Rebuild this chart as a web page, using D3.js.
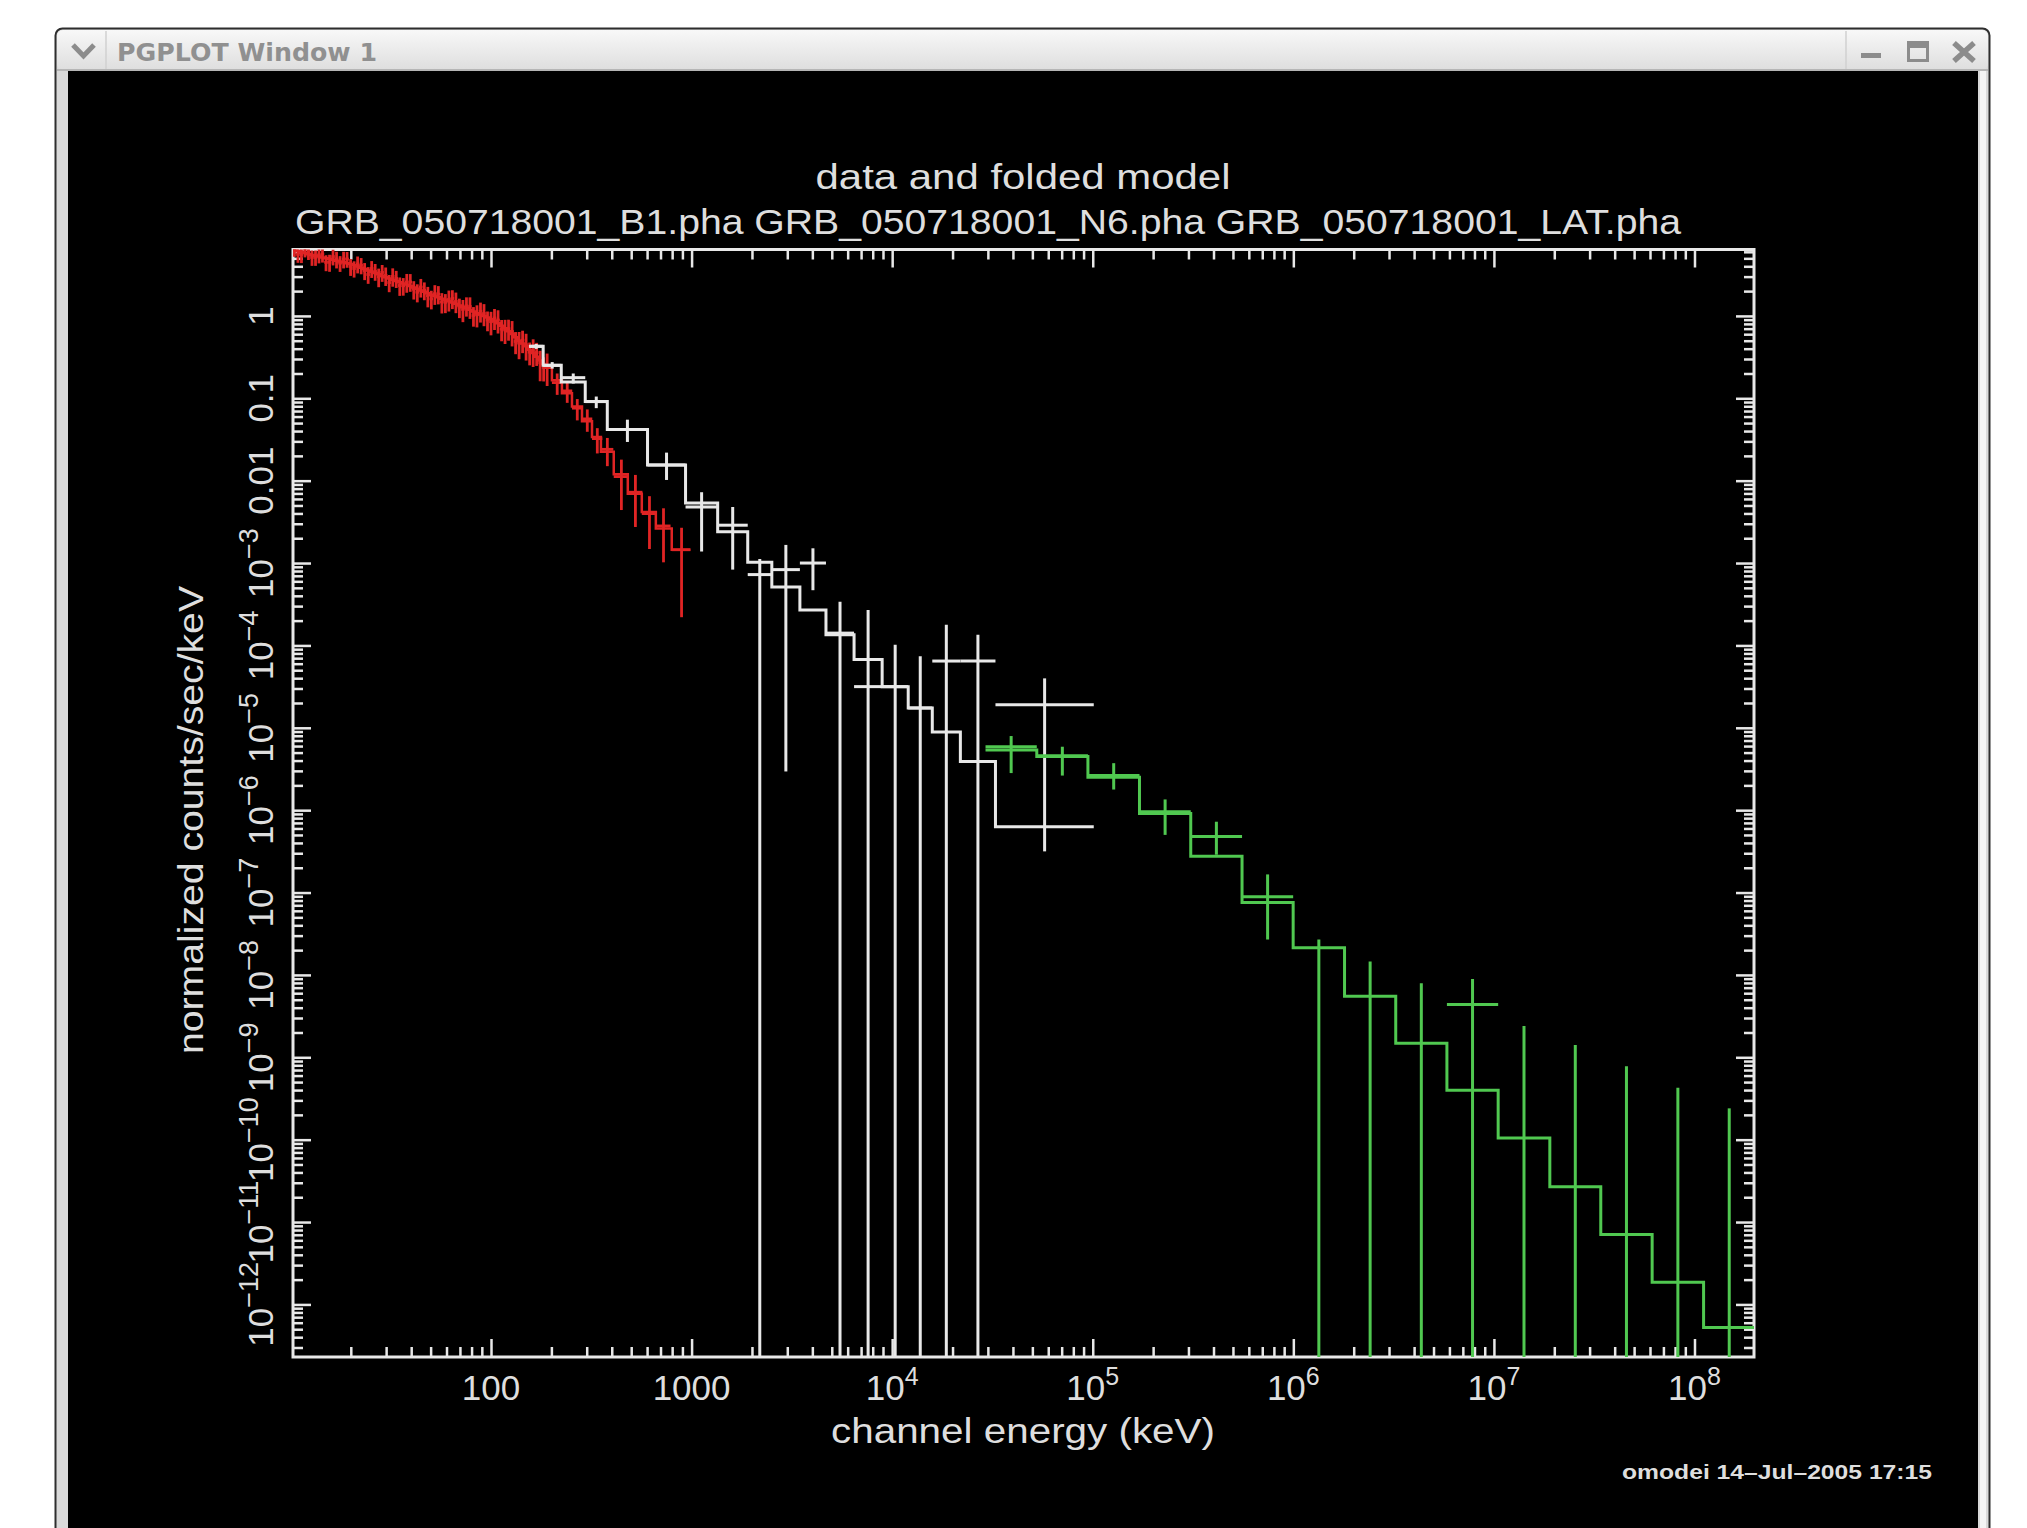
<!DOCTYPE html>
<html>
<head>
<meta charset="utf-8">
<script src="https://cdn.jsdelivr.net/npm/d3@7"></script>
<style>
html,body{margin:0;padding:0;background:#fff;}
svg{display:block;}
</style>
</head>
<body>
<svg id="chart" width="2027" height="1528"></svg>
<script>
// ---------------- DATA ----------------
// Red: GRB_050718001_N6.pha (energy centre keV, half width keV, counts/sec/keV, error, folded model)
const redEnergy = [10.47,10.90,11.35,11.82,12.30,12.81,13.34,13.88,14.45,15.05,
  15.67,16.31,16.98,17.68,18.41,19.16,19.95,20.77,21.63,22.52,
  23.44,24.41,25.41,26.45,27.54,28.67,29.85,31.08,32.36,33.69,
  35.08,36.52,38.02,39.58,41.21,42.90,44.67,46.51,48.42,50.41,
  52.48,54.64,56.89,59.23,61.66,64.20,66.83,69.59,72.44,75.44,
  78.52,81.77,85.11,88.63,92.26,96.07,100.0,104.1,108.4,112.9,
  117.5,122.3,127.4,132.6,138.0,143.7,149.6,155.8,162.2,168.9,
  175.8,183.0,190.5,213.8,239.9,269.2,302.0,338.8,380.2,446.7,
  524.8,616.6,724.4,891.3];
const redHalfWidth = [0.21,0.22,0.23,0.24,0.25,0.26,0.27,0.28,0.29,0.31,
  0.32,0.33,0.35,0.36,0.37,0.39,0.41,0.42,0.44,0.46,
  0.48,0.50,0.52,0.54,0.56,0.58,0.61,0.63,0.66,0.68,
  0.71,0.74,0.77,0.80,0.84,0.87,0.91,0.94,0.98,1.02,
  1.07,1.11,1.15,1.20,1.25,1.30,1.36,1.41,1.47,1.53,
  1.59,1.66,1.73,1.80,1.87,1.95,2.03,2.11,2.20,2.29,
  2.39,2.48,2.59,2.69,2.80,2.92,3.04,3.16,3.29,3.43,
  3.57,3.71,5.5,12.6,14.2,15.9,17.8,20.0,27,37.5,
  44,52,61,95];
const redRate = [6.61,5.59,5.56,6.49,6.03,5.13,5.13,5.50,5.62,4.47,
  4.47,5.25,4.90,4.37,4.90,4.90,3.98,3.76,4.27,4.12,
  3.55,3.18,3.76,3.47,2.99,3.37,3.09,2.54,3.02,2.85,
  2.34,2.32,2.57,2.59,2.11,1.94,2.24,2.05,1.76,1.61,
  1.86,1.84,1.48,1.46,1.58,1.63,1.50,1.28,1.20,1.33,
  1.30,1.01,1.035,1.14,1.07,0.891,0.851,0.944,0.891,0.692,
  0.676,0.700,0.646,0.490,0.468,0.507,0.447,0.363,0.380,0.359,
  0.269,0.237,0.245,0.155,0.123,0.0759,0.0562,0.0324,0.0240,0.0112,
  0.00724,0.00398,0.00282,0.00145];
const redError = [1.39,1.18,1.18,1.36,1.26,1.08,1.08,1.16,1.18,0.98,
  1.04,1.15,1.13,0.95,1.13,1.06,0.92,0.84,0.99,0.92,
  0.83,0.73,0.87,0.80,0.76,0.78,0.78,0.60,0.76,0.67,
  0.59,0.56,0.66,0.63,0.53,0.48,0.57,0.50,0.49,0.41,
  0.50,0.46,0.41,0.38,0.45,0.42,0.42,0.34,0.36,0.35,
  0.38,0.27,0.31,0.31,0.32,0.24,0.27,0.27,0.28,0.20,
  0.22,0.20,0.22,0.147,0.17,0.154,0.16,0.112,0.14,0.112,
  0.108,0.077,0.104,0.045,0.035,0.022,0.017,0.011,0.009,0.0068,
  0.0045,0.0025,0.0018,0.00123];
const redModel = [6.31,6.13,5.96,5.79,5.62,5.50,5.37,5.25,5.13,5.01,
  4.90,4.79,4.68,4.57,4.47,4.37,4.27,4.12,3.98,3.85,
  3.72,3.57,3.43,3.31,3.20,3.07,2.95,2.85,2.75,2.66,
  2.57,2.48,2.40,2.30,2.21,2.13,2.04,1.96,1.88,1.81,
  1.74,1.68,1.62,1.57,1.51,1.45,1.40,1.34,1.29,1.24,
  1.19,1.135,1.08,1.04,1.00,0.955,0.912,0.861,0.813,0.759,
  0.708,0.653,0.603,0.550,0.501,0.462,0.427,0.389,0.355,0.320,
  0.288,0.260,0.234,0.166,0.115,0.0794,0.0525,0.0339,0.0224,0.0120,
  0.00692,0.00417,0.00263,0.00145];

// White: GRB_050718001_B1.pha (bin edges keV, data, lower/upper bounds, folded model)
const whiteEdges = [155,182,224,295,380,603,933,1349,1905,2512,3467,4677,6457,8913,12023,15849,21878,32734,101158];
const whiteRate = [0.427,0.251,0.178,0.0912,0.0417,0.0155,0.00479,0.00288,7.24e-4,8.32e-4,1.0e-3,1.41e-4,3.16e-5,3.16e-5,1.74e-5,6.46e-5,6.46e-5,1.91e-5];
const whiteLow  = [0.398,0.229,0.151,0.0759,0.0295,0.0102,0.00138,8.32e-4,0,2.95e-6,4.68e-4,0,0,0,0,0,0,3.16e-7];
const whiteHigh = [0.457,0.275,0.200,0.105,0.0550,0.0219,0.00724,0.00479,0.00112,0.00166,0.00151,3.39e-4,2.69e-4,1.02e-4,7.41e-5,1.78e-4,1.35e-4,3.98e-5];
const whiteModel = [0.427,0.251,0.158,0.0912,0.0417,0.0155,0.00537,0.00240,0.00102,5.13e-4,2.69e-4,1.35e-4,6.76e-5,3.16e-5,1.74e-5,8.91e-6,3.89e-6,6.31e-7];

// Green: GRB_050718001_LAT.pha
const greenEdges = [2.92e4,5.26e4,9.46e4,1.71e5,3.08e5,5.55e5,9.98e5,1.80e6,3.24e6,5.83e6,1.05e7,1.90e7,3.41e7,6.15e7,1.11e8,2.0e8];
const greenRate = [5.89e-6,4.57e-6,2.63e-6,9.55e-7,4.79e-7,8.91e-8,0,0,0,4.37e-9,0,0,0,0,0];
const greenLow  = [2.82e-6,2.63e-6,1.78e-6,5.01e-7,2.88e-7,2.69e-8,0,0,0,0,0,0,0,0,0];
const greenHigh = [7.94e-6,5.89e-6,3.72e-6,1.35e-6,7.24e-7,1.66e-7,2.69e-8,1.45e-8,7.94e-9,8.91e-9,2.40e-9,1.41e-9,7.76e-10,4.27e-10,2.40e-10];
const greenModel = [5.37e-6,4.47e-6,2.51e-6,9.12e-7,2.75e-7,7.59e-8,2.14e-8,5.50e-9,1.48e-9,3.98e-10,1.05e-10,2.69e-11,7.08e-12,1.86e-12,5.25e-13];

// Tick labels
const xTickValues = [100,1000,1e4,1e5,1e6,1e7,1e8];
const xTickBase   = ["100","1000","10","10","10","10","10"];
const xTickExp    = ["","","4","5","6","7","8"];
const yTickValues = [1,0.1,0.01,1e-3,1e-4,1e-5,1e-6,1e-7,1e-8,1e-9,1e-10,1e-11,1e-12];
const yTickBase   = ["1","0.1","0.01","10","10","10","10","10","10","10","10","10","10"];
const yTickExp    = ["","","","\u22123","\u22124","\u22125","\u22126","\u22127","\u22128","\u22129","\u221210","\u221211","\u221212"];

const titleText = "data and folded model";
const subtitleText = "GRB_050718001_B1.pha GRB_050718001_N6.pha GRB_050718001_LAT.pha";
const xTitle = "channel energy (keV)";
const yTitle = "normalized counts/sec/keV";
const stampText = "omodei 14\u2013Jul\u20132005 17:15";

// ---------------- DRAWING ----------------
const W = 2027, H = 1528;
const P = {left:293, right:1754, top:249.5, bottom:1357};
const FG = "#e8e8e8", RED = "#e02424", GREEN = "#50c850";
const TXT = "#dedede";
const FONT = "'Liberation Sans', Arial, sans-serif";

const svg = d3.select("#chart");
const defs = svg.append("defs");
const tb = defs.append("linearGradient").attr("id","tb").attr("x1",0).attr("y1",0).attr("x2",0).attr("y2",1);
tb.append("stop").attr("offset","0%").attr("stop-color","#f8f8f8");
tb.append("stop").attr("offset","100%").attr("stop-color","#dedede");
defs.append("clipPath").attr("id","plotclip").append("rect")
  .attr("x",P.left).attr("y",P.top).attr("width",P.right-P.left).attr("height",P.bottom-P.top);

// window chrome
svg.append("rect").attr("width",W).attr("height",H).attr("fill","#ffffff");
svg.append("rect").attr("x",55.5).attr("y",28.5).attr("width",1934).attr("height",1520).attr("rx",7)
  .attr("fill","#d9d9d9").attr("stroke","#2e2e2e").attr("stroke-width",2);
svg.append("rect").attr("x",57).attr("y",30).attr("width",1931).attr("height",40).attr("rx",6).attr("fill","url(#tb)");
svg.append("line").attr("x1",57).attr("x2",1988).attr("y1",70).attr("y2",70).attr("stroke","#a8a8a8").attr("stroke-width",1.5);
svg.append("rect").attr("x",68).attr("y",71).attr("width",1910).attr("height",H-71).attr("fill","#000");
svg.append("line").attr("x1",1983).attr("x2",1983).attr("y1",71).attr("y2",H).attr("stroke","#f4f4f4").attr("stroke-width",6);
// title bar widgets
svg.append("path").attr("d","M73,45 L83.5,56 L94,45").attr("fill","none").attr("stroke","#8c8c8c").attr("stroke-width",5);
svg.append("line").attr("x1",106).attr("x2",106).attr("y1",31).attr("y2",69).attr("stroke","#d0d0d0").attr("stroke-width",1.5);
svg.append("text").attr("x",117).attr("y",61).attr("font-family","'DejaVu Sans', sans-serif").attr("font-weight","bold")
  .attr("font-size",25).attr("fill","#909090").attr("textLength",260).attr("lengthAdjust","spacingAndGlyphs").text("PGPLOT Window 1");
svg.append("line").attr("x1",1846).attr("x2",1846).attr("y1",31).attr("y2",69).attr("stroke","#d0d0d0").attr("stroke-width",1.5);
svg.append("rect").attr("x",1861).attr("y",53).attr("width",20).attr("height",5).attr("fill","#8c8c8c");
svg.append("rect").attr("x",1908.5).attr("y",42.5).attr("width",19).attr("height",18).attr("fill","none").attr("stroke","#8c8c8c").attr("stroke-width",3);
svg.append("rect").attr("x",1908).attr("y",42).attr("width",20).attr("height",6).attr("fill","#8c8c8c");
svg.append("path").attr("d","M1954,43 L1974,61 M1974,43 L1954,61").attr("stroke","#8c8c8c").attr("stroke-width",5.5);

// scales
const x = d3.scaleLog().domain([10.3, 1.98e8]).range([P.left, P.right]);
const y = d3.scaleLog().domain([2.3e-13, 6.4]).range([P.bottom, P.top]);
const yMin = y.domain()[0];

// tick generation for log axes
function logTicks(dom){
  const major=[], minor=[];
  const e0=Math.floor(Math.log10(dom[0])), e1=Math.ceil(Math.log10(dom[1]));
  for(let e=e0;e<=e1;e++){
    for(let k=1;k<=9;k++){
      const v=k*Math.pow(10,e);
      if(v<dom[0]||v>dom[1]) continue;
      (k===1?major:minor).push(v);
    }
  }
  return {major,minor};
}
const xt = logTicks(x.domain()), yt = logTicks(y.domain());
const axesG = svg.append("g");
function styleAxis(g){
  g.select(".domain").remove();
  g.selectAll(".tick line").attr("stroke",FG).attr("stroke-width",2.5);
  g.selectAll(".tick text").remove();
}
[[xt.minor,10],[xt.major,18]].forEach(([vals,len])=>{
  axesG.append("g").attr("transform",`translate(0,${P.bottom})`).call(d3.axisBottom(x).tickValues(vals).tickSize(-len).tickFormat("")).call(styleAxis);
  axesG.append("g").attr("transform",`translate(0,${P.top})`).call(d3.axisTop(x).tickValues(vals).tickSize(-len).tickFormat("")).call(styleAxis);
});
[[yt.minor,10],[yt.major,18]].forEach(([vals,len])=>{
  axesG.append("g").attr("transform",`translate(${P.left},0)`).call(d3.axisLeft(y).tickValues(vals).tickSize(-len).tickFormat("")).call(styleAxis);
  axesG.append("g").attr("transform",`translate(${P.right},0)`).call(d3.axisRight(y).tickValues(vals).tickSize(-len).tickFormat("")).call(styleAxis);
});
svg.append("rect").attr("x",P.left).attr("y",P.top).attr("width",P.right-P.left).attr("height",P.bottom-P.top)
  .attr("fill","none").attr("stroke",FG).attr("stroke-width",3);

// tick labels
const xl = svg.append("g").attr("font-family",FONT).attr("fill",TXT).attr("font-size",35).attr("text-anchor","middle");
xTickValues.forEach((v,i)=>{
  const t = xl.append("text").attr("x",x(v)).attr("y",1400);
  t.append("tspan").text(xTickBase[i]);
  if(xTickExp[i]) t.append("tspan").attr("font-size",25).attr("dy",-15).text(xTickExp[i]);
});
const yl = svg.append("g").attr("font-family",FONT).attr("fill",TXT).attr("font-size",35).attr("text-anchor","middle");
yTickValues.forEach((v,i)=>{
  const t = yl.append("text").attr("transform",`translate(273,${y(v)}) rotate(-90)`);
  t.append("tspan").text(yTickBase[i]);
  if(yTickExp[i]) t.append("tspan").attr("font-size",27).attr("dy",-15).text(yTickExp[i]);
});

// titles
const tg = svg.append("g").attr("font-family",FONT).attr("fill",TXT).attr("font-size",35).attr("text-anchor","middle");
tg.append("text").attr("x",1023).attr("y",189).attr("textLength",415).attr("lengthAdjust","spacingAndGlyphs").text(titleText);
tg.append("text").attr("x",988).attr("y",234).attr("textLength",1386).attr("lengthAdjust","spacingAndGlyphs").text(subtitleText);
tg.append("text").attr("x",1023).attr("y",1443).attr("textLength",384).attr("lengthAdjust","spacingAndGlyphs").text(xTitle);
tg.append("text").attr("transform","translate(203,820) rotate(-90)").attr("textLength",468).attr("lengthAdjust","spacingAndGlyphs").text(yTitle);
svg.append("text").attr("x",1932).attr("y",1479).attr("text-anchor","end").attr("font-family",FONT).attr("font-weight","bold")
  .attr("font-size",20).attr("fill",TXT).attr("textLength",310).attr("lengthAdjust","spacingAndGlyphs").text(stampText);

// data
const plot = svg.append("g").attr("clip-path","url(#plotclip)").attr("fill","none").attr("stroke-linecap","butt");
const stepLine = d3.line().x(d=>x(d[0])).y(d=>y(d[1])).curve(d3.curveStepAfter);

function drawCrosses(g, xc, xlo, xhi, yc, ylo, yhi, color, sw){
  const n = xc.length;
  for(let i=0;i<n;i++){
    if(yc[i]>0){
      g.append("line").attr("x1",x(xlo[i])).attr("x2",x(xhi[i])).attr("y1",y(yc[i])).attr("y2",y(yc[i]))
        .attr("stroke",color).attr("stroke-width",sw);
    }
    g.append("line").attr("x1",x(xc[i])).attr("x2",x(xc[i]))
      .attr("y1",y(Math.max(ylo[i],yMin))).attr("y2",y(yhi[i]))
      .attr("stroke",color).attr("stroke-width",sw);
  }
}
function binnedSeries(g, edges, rate, lo, hi, model, color, sw){
  const n = rate.length;
  const xc = rate.map((_,i)=>Math.sqrt(edges[i]*edges[i+1]));
  const pts = model.map((m,i)=>[edges[i],m]); pts.push([edges[n], model[n-1]]);
  g.append("path").attr("d",stepLine(pts)).attr("stroke",color).attr("stroke-width",sw);
  drawCrosses(g, xc, edges.slice(0,n), edges.slice(1), rate, lo, hi, color, sw);
}

// red series (N6)
{
  const g = plot.append("g");
  const lo = redEnergy.map((e,i)=>e-redHalfWidth[i]);
  const hi = redEnergy.map((e,i)=>e+redHalfWidth[i]);
  const pts = redModel.map((m,i)=>[lo[i],m]); pts.push([hi[hi.length-1], redModel[redModel.length-1]]);
  g.append("path").attr("d",stepLine(pts)).attr("stroke",RED).attr("stroke-width",2.5);
  drawCrosses(g, redEnergy, lo, hi, redRate,
    redRate.map((v,i)=>v-redError[i]), redRate.map((v,i)=>v+redError[i]), RED, 2.8);
}
// white series (B1)
binnedSeries(plot.append("g"), whiteEdges, whiteRate, whiteLow, whiteHigh, whiteModel, FG, 3);
// green series (LAT)
binnedSeries(plot.append("g"), greenEdges, greenRate, greenLow, greenHigh, greenModel, GREEN, 3);
</script>
</body>
</html>
